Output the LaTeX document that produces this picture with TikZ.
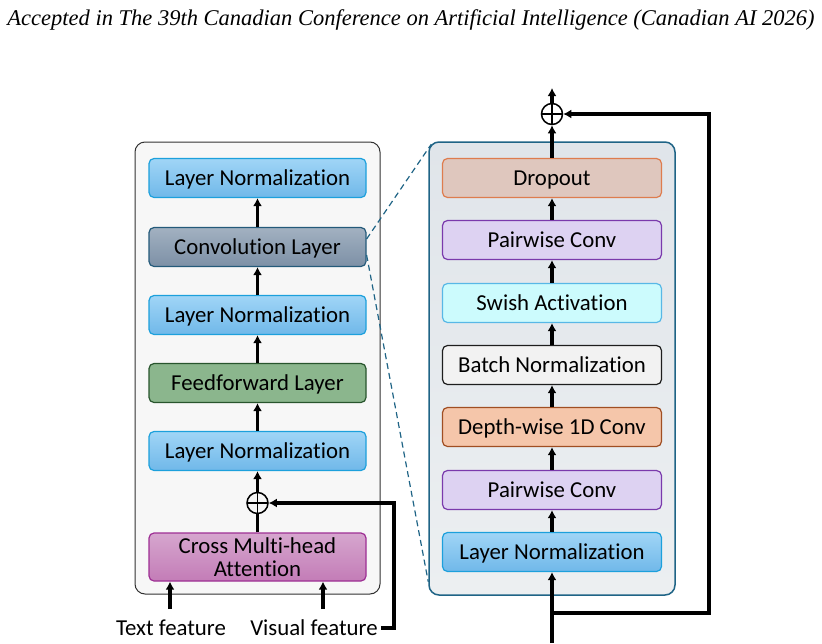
\documentclass[tikz,border=0pt]{standalone}
\usepackage{fontspec}
\setmainfont{Carlito}[Ligatures={NoCommon}]
\newfontfamily\hdrfont{Liberation Serif}
\usetikzlibrary{arrows.meta,calc}
\definecolor{lnT}{RGB}{160,213,246}
\definecolor{lnB}{RGB}{112,184,233}
\definecolor{lnD}{RGB}{28,160,220}
\definecolor{cvT}{RGB}{163,177,193}
\definecolor{cvB}{RGB}{124,144,166}
\definecolor{cvD}{RGB}{36,90,122}
\definecolor{ffF}{RGB}{139,182,141}
\definecolor{ffD}{RGB}{40,85,45}
\definecolor{cmT}{RGB}{214,166,206}
\definecolor{cmB}{RGB}{195,124,183}
\definecolor{cmD}{RGB}{158,47,148}
\definecolor{drF}{RGB}{223,199,190}
\definecolor{drD}{RGB}{222,124,78}
\definecolor{pwF}{RGB}{221,210,242}
\definecolor{pwD}{RGB}{122,58,172}
\definecolor{swF}{RGB}{204,251,253}
\definecolor{swD}{RGB}{88,184,230}
\definecolor{bnF}{RGB}{242,242,242}
\definecolor{bnD}{RGB}{30,30,30}
\definecolor{dwF}{RGB}{245,198,170}
\definecolor{dwD}{RGB}{160,78,34}
\definecolor{lcF}{RGB}{247,247,247}
\definecolor{lcD}{RGB}{50,50,50}
\definecolor{rcT}{RGB}{224,229,234}
\definecolor{rcB}{RGB}{236,239,241}
\definecolor{rcD}{RGB}{31,100,134}
\tikzset{
  blk/.style={rounded corners=5pt, line width=1.2pt, minimum width=217pt, minimum height=39pt, inner sep=0pt, text height=19.5pt, text depth=4pt, font=\fontsize{22.8}{24}\selectfont},
  lnbox/.style={blk, draw=lnD, top color=lnT, bottom color=lnB},
  cvbox/.style={blk, draw=cvD, top color=cvT, bottom color=cvB},
  ffbox/.style={blk, draw=ffD, fill=ffF},
  cmbox/.style={blk, text height=, text depth=, draw=cmD, top color=cmT, bottom color=cmB, minimum height=48pt, align=center, font=\fontsize{22.8}{23}\selectfont},
  drbox/.style={blk, draw=drD, fill=drF, minimum width=219pt},
  pwbox/.style={blk, draw=pwD, fill=pwF, minimum width=219pt},
  swbox/.style={blk, draw=swD, fill=swF, minimum width=219pt},
  bnbox/.style={blk, draw=bnD, fill=bnF, minimum width=219pt},
  dwbox/.style={blk, draw=dwD, fill=dwF, minimum width=219pt},
  rlnbox/.style={lnbox, minimum width=219pt},
  oplus/.style={circle, draw, line width=1.5pt, minimum size=21pt, inner sep=0pt,
    path picture={\draw[line width=1.2pt] (path picture bounding box.north) -- (path picture bounding box.south) (path picture bounding box.west) -- (path picture bounding box.east);}},
  arr/.style={line width=3.2pt, -{Latex[length=8pt,width=9pt]}},
  ln/.style={line width=3.2pt},
  dsh/.style={draw=rcD, line width=1.2pt, dash pattern=on 6pt off 4pt},
  lbl/.style={font=\fontsize{22.8}{24}\selectfont, inner sep=0pt}
}
\begin{document}
\begin{tikzpicture}[x=1pt,y=1pt]
\useasboundingbox (0,0) rectangle (822,-643);
\node[font=\hdrfont\itshape\fontsize{22.5}{24}\selectfont, inner sep=0pt] (hdr) at (411,-20) {Accepted in The 39th Canadian Conference on Artificial Intelligence (Canadian AI 2026)};
% containers
\node[draw=lcD, fill=lcF, line width=1pt, rounded corners=10pt, minimum width=245pt, minimum height=452pt] (lc) at (257.5,-368) {};
\node[draw=rcD, top color=rcT, bottom color=rcB, line width=1.5pt, rounded corners=10pt, minimum width=246pt, minimum height=453pt] (rc) at (552,-368.5) {};
% left column
\node[lnbox] (ln1) at (257.5,-178) {Layer Normalization};
\node[cvbox] (conv) at (257.5,-247) {Convolution Layer};
\node[lnbox] (ln2) at (257.5,-315) {Layer Normalization};
\node[ffbox] (ff) at (257.5,-383) {Feedforward Layer};
\node[lnbox] (ln3) at (257.5,-451) {Layer Normalization};
\node[oplus] (p1) at (257.5,-503) {};
\node[cmbox] (cma) at (257.5,-557) {Cross Multi-head\\Attention};
\node[lbl] (tf) at (171,-628) {Text feature};
\node[lbl] (vf) at (314,-628) {Visual feature};
% right column
\node[drbox] (dr) at (552,-178) {Dropout};
\node[pwbox] (pw2) at (552,-240) {Pairwise Conv};
\node[swbox] (sw) at (552,-303) {Swish Activation};
\node[bnbox] (bn) at (552,-365) {Batch Normalization};
\node[dwbox] (dw) at (552,-427) {Depth-wise 1D Conv};
\node[pwbox] (pw1) at (552,-490) {Pairwise Conv};
\node[rlnbox] (rln) at (552,-552) {Layer Normalization};
\node[oplus] (p2) at (552,-114) {};
\coordinate (inp) at (552,-643);
\coordinate (out) at (552,-88);
\coordinate (br) at (552,-613);
\coordinate (tfs) at (170,-609);
\coordinate (vfs) at (323,-609);
% left arrows
\draw[arr] (conv) -- (ln1);
\draw[arr] (ln2) -- (conv);
\draw[arr] (ff) -- (ln2);
\draw[arr] (ln3) -- (ff);
\draw[arr] (p1) -- (ln3);
\draw[ln] (cma) -- (p1);
\draw[arr] (tfs) -- (tfs |- cma.south);
\draw[arr] (vfs) -- (vfs |- cma.south);
\draw[arr] ([xshift=3pt]vf.east) -- ++(13,0) |- (p1.east);
% right arrows
\draw[arr] (inp) -- (rln);
\draw[arr] (rln) -- (pw1);
\draw[arr] (pw1) -- (dw);
\draw[arr] (dw) -- (bn);
\draw[arr] (bn) -- (sw);
\draw[arr] (sw) -- (pw2);
\draw[arr] (pw2) -- (dr);
\draw[arr] (dr) -- (p2);
\draw[arr] (p2) -- (out);
\draw[arr] (br) -| (709,-300) |- (p2.east);
% dashed zoom lines
\draw[dsh] ([yshift=8pt]conv.east) -- ([xshift=3pt,yshift=-3pt]rc.north west);
\draw[dsh] ([yshift=-8pt]conv.east) -- ([yshift=14pt]rc.south west);
\end{tikzpicture}
\end{document}
